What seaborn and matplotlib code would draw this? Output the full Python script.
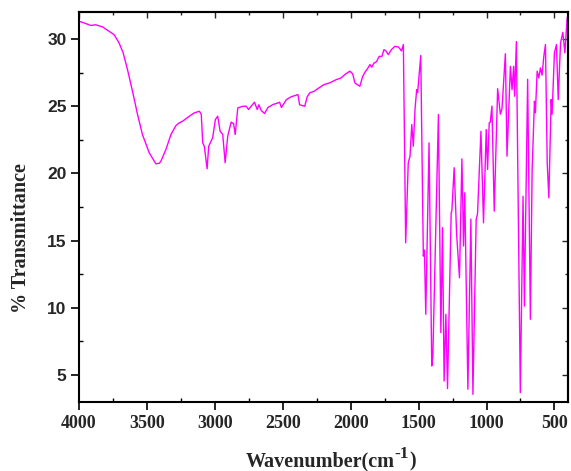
import matplotlib
matplotlib.use("Agg")
import matplotlib.pyplot as plt
import seaborn as sns
import pandas as pd
from matplotlib.ticker import MultipleLocator

wavenumber = [
    4000, 3963, 3914, 3877, 3828, 3778, 3742, 3705, 3675, 3643, 3606, 3569, 3533,
    3483, 3434, 3409, 3397, 3360, 3323, 3286, 3262, 3237, 3188, 3151, 3114, 3100,
    3089, 3077, 3057, 3045, 3016, 2996, 2979, 2961, 2942, 2924, 2905, 2880, 2862,
    2850, 2831, 2794, 2770, 2752, 2708, 2688, 2676, 2658, 2634, 2609, 2572, 2535,
    2523, 2510, 2473, 2437, 2388, 2376, 2338, 2320, 2301, 2270, 2233, 2197, 2154,
    2104, 2070, 2043, 2006, 1985, 1969, 1951, 1932, 1912, 1895, 1875, 1858, 1845,
    1829, 1810, 1790, 1770, 1755, 1740, 1723, 1700, 1674, 1649, 1637, 1626, 1612,
    1595, 1576, 1563, 1550, 1539, 1526, 1514, 1507, 1484, 1465, 1457, 1447, 1423,
    1403, 1395, 1354, 1336, 1324, 1312, 1299, 1287, 1260, 1255, 1238, 1220, 1199,
    1181, 1169, 1160, 1137, 1115, 1100, 1076, 1066, 1041, 1022, 1002, 992, 980,
    972, 960, 943, 918, 898, 886, 861, 849, 824, 812, 800, 793, 780, 751, 731,
    721, 697, 677, 664, 647, 640, 627, 615, 603, 591, 578, 566, 553, 541, 524,
    517, 500, 485, 472, 455, 438, 423, 406, 400,
]
transmittance = [
    31.31, 31.19, 31.0, 31.05, 30.9, 30.56, 30.32, 29.7, 28.96, 27.72, 26.1, 24.38, 22.89,
    21.53, 20.71, 20.75, 20.91, 21.78, 22.89, 23.56, 23.76, 23.88, 24.25, 24.5, 24.62, 24.4,
    22.27, 22.0, 20.34, 22.02, 22.65, 24.0, 24.25, 23.13, 22.9, 20.79, 22.77, 23.81, 23.7,
    22.89, 24.87, 24.99, 25.0, 24.75, 25.29, 24.75, 25.1, 24.67, 24.45, 24.9, 25.12, 25.24,
    25.29, 24.9, 25.49, 25.7, 25.86, 25.1, 24.99, 25.7, 25.99, 26.1, 26.36, 26.6, 26.73,
    26.98, 27.1, 27.35, 27.6, 27.4, 26.73, 26.6, 26.48, 27.2, 27.52, 27.8, 28.09, 27.9,
    28.2, 28.3, 28.7, 28.7, 29.2, 29.1, 28.83, 29.2, 29.45, 29.4, 29.26, 29.1, 29.58,
    14.84, 20.79, 21.28, 23.63, 22.02, 24.8, 26.23, 26.0, 28.76, 13.85, 14.3, 9.52, 22.27,
    5.68, 6.42, 24.38, 8.16, 15.96, 4.56, 9.52, 4.0, 17.1, 17.2, 20.42, 15.5, 12.24,
    21.08, 14.6, 18.56, 3.95, 16.6, 3.57, 16.57, 17.0, 23.13, 16.33, 23.26, 20.29, 23.76,
    23.8, 25.0, 17.19, 26.3, 24.4, 24.8, 28.9, 21.28, 27.96, 26.23, 27.96, 25.74, 29.8, 3.7, 18.3,
    10.13, 27.0, 9.15, 20.29, 25.36, 24.5, 27.6, 27.1, 27.84, 27.3, 28.7, 29.58, 20.79, 18.18, 25.49,
    24.4, 28.96, 29.58, 25.49, 29.7, 30.49, 28.96, 31.6, 30.8,
]

x_ticks = [4000, 3500, 3000, 2500, 2000, 1500, 1000, 500]
y_ticks = [5, 10, 15, 20, 25, 30]
x_label_main = "Wavenumber(cm"
x_label_sup = "-1"
x_label_end = ")"
y_label = "% Transmittance"

sns.set_theme(style="ticks")
plt.rcParams["font.family"] = ["Liberation Serif", "DejaVu Serif"]

df = pd.DataFrame({"wn": wavenumber, "T": transmittance})

W, H = 571, 471
fig = plt.figure(figsize=(W / 100, H / 100), dpi=100)
ax = fig.add_axes([79 / W, 1 - 402 / H, (568 - 79) / W, (402 - 12) / H])

sns.lineplot(data=df, x="wn", y="T", sort=False, estimator=None,
             color="#FF00FF", linewidth=1.0, ax=ax)

ax.set_xlim(4000, 400)
ax.set_ylim(3, 32)
ax.set_xticks(x_ticks)
ax.set_yticks(y_ticks)
ax.xaxis.set_minor_locator(MultipleLocator(250))
ax.yaxis.set_minor_locator(MultipleLocator(2.5))
ax.set_xlabel("")

for lab in ax.get_xticklabels():
    lab.set_fontfamily("Liberation Serif")
    lab.set_fontweight("bold")
    lab.set_fontsize(13)
for lab in ax.get_yticklabels():
    lab.set_fontfamily("Liberation Sans")
    lab.set_fontweight("bold")
    lab.set_fontsize(12.5)

ax.tick_params(which="major", direction="out", length=6, width=1.2, color="black", pad=3)
ax.tick_params(which="minor", direction="in", length=3, width=1.0, color="black")

for s in ax.spines.values():
    s.set_linewidth(1.5)
    s.set_color("black")

top = ax.secondary_xaxis("top")
top.set_xticks(x_ticks)
top.xaxis.set_minor_locator(MultipleLocator(250))
top.tick_params(which="major", direction="in", length=4, width=1.0, labeltop=False)
top.tick_params(which="minor", direction="in", length=2, width=1.0)
top.spines["top"].set_linewidth(1.5)
right = ax.secondary_yaxis("right")
right.set_yticks(y_ticks)
right.yaxis.set_minor_locator(MultipleLocator(2.5))
right.tick_params(which="major", direction="in", length=4, width=1.0, labelright=False)
right.tick_params(which="minor", direction="in", length=2, width=1.0)
right.spines["right"].set_linewidth(1.5)

ax.set_ylabel(y_label, fontsize=14.5, fontweight="bold", fontfamily="Liberation Serif")
ax.yaxis.set_label_coords((31 - 79) / 489, (402 - 238) / 390)

# x label built from pieces so the superscript is large
fs = 14.5
fig.canvas.draw()
r = fig.canvas.get_renderer()
base_y = 1 - 466 / H
t1 = fig.text(0, base_y, x_label_main, fontsize=fs, fontweight="bold",
              fontfamily="Liberation Serif", ha="left", va="baseline")
t2 = fig.text(0, base_y + 8 / H, x_label_sup, fontsize=12.5, fontweight="bold",
              fontfamily="Liberation Serif", ha="left", va="baseline")
t3 = fig.text(0, base_y, x_label_end, fontsize=fs, fontweight="bold",
              fontfamily="Liberation Serif", ha="left", va="baseline")
w1 = t1.get_window_extent(r).width
w2 = t2.get_window_extent(r).width
w3 = t3.get_window_extent(r).width
total = w1 + w2 + w3
x0 = 331 - total / 2
t1.set_x(x0 / W)
t2.set_x((x0 + w1 - 1) / W)
t3.set_x((x0 + w1 + w2) / W)

fig.savefig("out.png", dpi=100, facecolor="white")
